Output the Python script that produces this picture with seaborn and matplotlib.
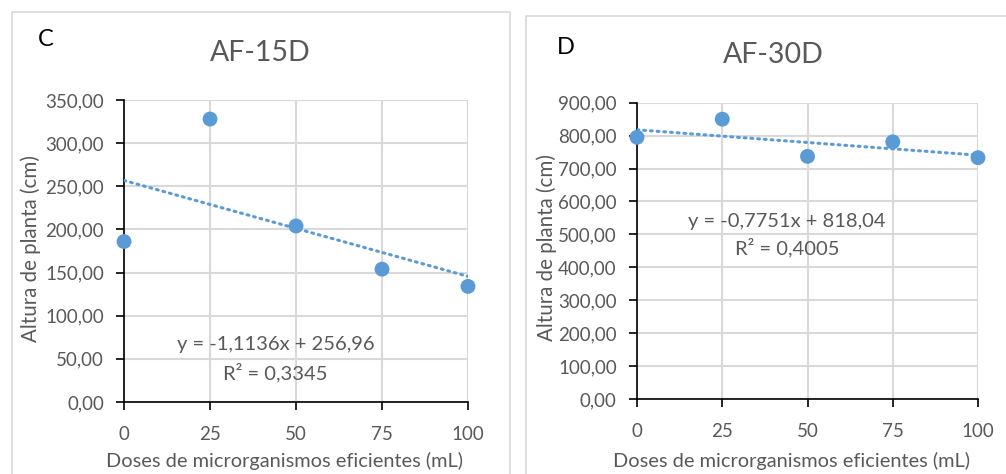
import numpy as np
import pandas as pd
import matplotlib
matplotlib.use('Agg')
import matplotlib.pyplot as plt
from matplotlib.ticker import FuncFormatter
from matplotlib.patches import Rectangle
import seaborn as sns

# Dados
doses = [0, 25, 50, 75, 100]
altura_15d = [186, 328, 204, 154, 134]
altura_30d = [795, 850, 737, 781, 733]

paineis = ['C', 'D']
titulos = ['AF-15D', 'AF-30D']
y_max = [350, 900]
y_passo = [50, 100]
equacoes = ['y = -1,1136x + 256,96', 'y = -0,7751x + 818,04']
r2 = ['R² = 0,3345', 'R² = 0,4005']

sns.set_style('white')
plt.rcParams['font.family'] = ['Lato', 'DejaVu Sans']

azul = '#5B9BD5'
cinza = '#595959'
grade = '#D9D9D9'

fig = plt.figure(figsize=(10.06, 4.74), dpi=100)

# molduras das figuras (estilo Excel)
fig.patches.append(Rectangle((12 / 1006, -0.1), 498 / 1006, 1 - 12 / 474 + 0.1,
                             transform=fig.transFigure, fill=False, ec=grade, lw=1.2))
fig.patches.append(Rectangle((526 / 1006, -0.1), 0.6, 1 - 16 / 474 + 0.1,
                             transform=fig.transFigure, fill=False, ec=grade, lw=1.2))

posicoes = [[0.1233, 0.1519, 0.3419, 0.637], [0.6332, 0.1582, 0.339, 0.6251]]
dados = [altura_15d, altura_30d]
eq_pos = [(0.44, 0.189, 0.099), (0.44, 0.598, 0.51)]
ylab_pos = [(-0.241, 0.508), (-0.235, 0.512)]
xlab_pos = [(0.467, -0.166), (0.454, -0.178)]
letra_pos = [(38 / 1006, 1 - 40 / 474), (557 / 1006, 1 - 47 / 474)]
titulo_pos = [(260 / 1006, 1 - 53 / 474), (773 / 1006, 1 - 55 / 474)]

fmt = FuncFormatter(lambda v, p: f'{v:.2f}'.replace('.', ','))

for i in range(2):
    ax = fig.add_axes(posicoes[i])
    df = pd.DataFrame({'dose': doses, 'altura': dados[i]})
    sns.regplot(data=df, x='dose', y='altura', ax=ax, scatter=False, ci=None,
                truncate=True,
                line_kws=dict(color=azul, lw=2.2, ls=(0, (0.6, 1.6)),
                              dash_capstyle='round', zorder=3))
    sns.scatterplot(data=df, x='dose', y='altura', ax=ax, color=azul, s=115,
                    edgecolor='none', zorder=4, clip_on=False)

    ax.set_xlim(0, 100)
    ax.set_ylim(0, y_max[i])
    ax.set_xticks(doses)
    ax.set_yticks(np.arange(0, y_max[i] + 1, y_passo[i]))
    ax.yaxis.set_major_formatter(fmt)
    ax.grid(True, color=grade, lw=1.5)
    ax.set_axisbelow(True)
    for s in ['top', 'right']:
        ax.spines[s].set_visible(False)
    for s in ['left', 'bottom']:
        ax.spines[s].set_color('black')
        ax.spines[s].set_linewidth(1.2)
    ax.tick_params(axis='both', direction='out', length=6, width=1.2, color='black',
                   labelsize=13.5, labelcolor=cinza, left=True, bottom=True)
    ax.tick_params(axis='x', pad=11)
    ax.tick_params(axis='y', pad=8.5)

    ax.set_xlabel('Doses de microrganismos eficientes (mL)', fontsize=14.4,
                  color=cinza)
    ax.set_ylabel('Altura de planta (cm)', fontsize=14.8, color=cinza)
    ax.xaxis.set_label_coords(*xlab_pos[i])
    ax.yaxis.set_label_coords(*ylab_pos[i])

    ex, ey1, ey2 = eq_pos[i]
    ax.text(ex, ey1, equacoes[i], transform=ax.transAxes, ha='center', va='center',
            fontsize=14.5, color=cinza)
    ax.text(ex, ey2, r2[i], transform=ax.transAxes, ha='center', va='center',
            fontsize=14.5, color=cinza)

    fig.text(*letra_pos[i], paineis[i], fontsize=17, color='black',
             ha='left', va='center')
    fig.text(*titulo_pos[i], titulos[i], fontsize=20.5, color=cinza,
             ha='center', va='center')

plt.savefig('out.png', dpi=100)
